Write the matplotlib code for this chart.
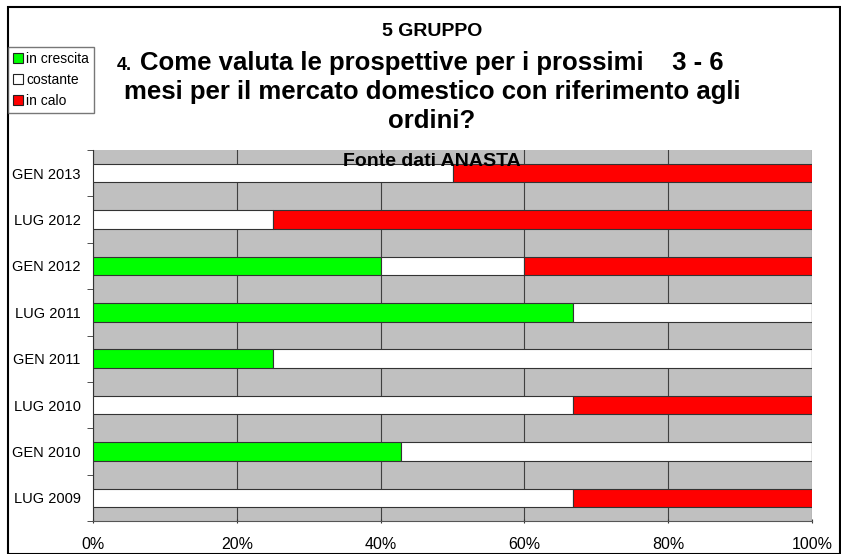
import numpy as np
import matplotlib.pyplot as plt
from matplotlib.patches import Rectangle, Patch

plt.rcParams['font.family'] = ['Liberation Sans', 'DejaVu Sans']

periodi = ['LUG 2009', 'GEN 2010', 'LUG 2010', 'GEN 2011', 'LUG 2011', 'GEN 2012', 'LUG 2012', 'GEN 2013']
in_crescita = [0, 42.9, 0, 25, 66.7, 40, 0, 0]
costante = [66.7, 57.1, 66.7, 75, 33.3, 20, 25, 50]
in_calo = [33.3, 0, 33.3, 0, 0, 40, 75, 50]

colori = ['#00ff00', '#ffffff', '#ff0000']
nomi = ['in crescita', 'costante', 'in calo']

W, H = 841, 554
fig = plt.figure(figsize=(W / 100, H / 100), dpi=100)
ax = fig.add_axes([93 / W, 1 - 521 / H, 719 / W, 371 / H])
ax.set_facecolor('#c0c0c0')

y = np.arange(len(periodi))
left = np.zeros(len(periodi))
for serie, c in zip([in_crescita, costante, in_calo], colori):
    ax.barh(y, serie, left=left, height=0.4, color=c, edgecolor='#333333', linewidth=0.8, zorder=3)
    left += np.array(serie)

ax.set_xlim(0, 100)
ax.set_ylim(-0.5, len(periodi) - 0.5)
ax.set_xticks([0, 20, 40, 60, 80, 100])
ax.set_xticklabels(['0%', '20%', '40%', '60%', '80%', '100%'], fontsize=11.5)
ax.set_yticks(y)
ax.set_yticklabels(periodi, fontsize=10.5)
ax.set_yticks(np.arange(-0.5, len(periodi), 1), minor=True)
ax.tick_params(axis='y', which='major', length=0, pad=9)
ax.tick_params(axis='y', which='minor', length=4.5, direction='out', color='#333333')
ax.tick_params(axis='x', length=3, direction='inout', pad=10, color='#333333')
ax.grid(axis='x', color='#404040', linewidth=0.8, zorder=1)
ax.set_axisbelow(True)
for s in ['top', 'right']:
    ax.spines[s].set_visible(False)
ax.spines['left'].set_color('#333333')
ax.spines['bottom'].set_color('#555555')

# cornice esterna
fig.patches.append(Rectangle((8 / W, 0), 832 / W, 1 - 7 / H, transform=fig.transFigure,
                             fill=False, edgecolor='black', linewidth=1.5))

fig.text(432 / W, 1 - 32 / H, '5 GRUPPO', ha='center', va='center', fontsize=14, fontweight='bold')
fig.text(140 / W, 1 - 63 / H, 'Come valuta le prospettive per i prossimi    3 - 6',
         ha='left', va='center', fontsize=18.5, fontweight='bold')
fig.text(132 / W, 1 - 65 / H, '4.', ha='right', va='center', fontsize=13, fontweight='bold')
fig.text(432 / W, 1 - 92 / H, 'mesi per il mercato domestico con riferimento agli',
         ha='center', va='center', fontsize=18.5, fontweight='bold')
fig.text(432 / W, 1 - 121 / H, 'ordini?', ha='center', va='center', fontsize=18.5, fontweight='bold')
fig.text(432 / W, 1 - 161 / H, 'Fonte dati ANASTA', ha='center', va='center',
         fontsize=14, fontweight='bold', zorder=10)

handles = [Patch(facecolor=c, edgecolor='#222222', linewidth=0.8) for c in colori]
fig.legend(handles, nomi, loc='upper left', bbox_to_anchor=(8 / W, 1 - 47 / H),
           fontsize=10, frameon=True, fancybox=False, edgecolor='#555555',
           handlelength=0.7, handleheight=0.7, handletextpad=0.25, borderpad=0.35,
           labelspacing=0.5, borderaxespad=0)

fig.savefig('out.png', dpi=100)
